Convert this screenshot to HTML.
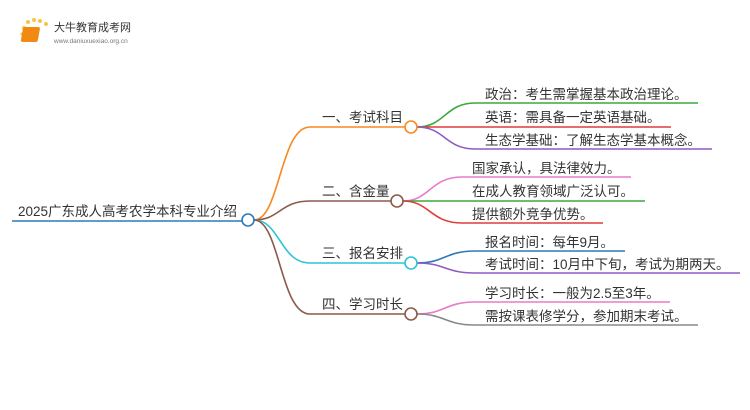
<!DOCTYPE html>
<html><head><meta charset="utf-8"><style>
body{margin:0;width:750px;height:410px;background:#fff;overflow:hidden;font-family:"Liberation Sans","Noto Sans CJK SC",sans-serif}
svg{position:absolute;left:0;top:0}
text{font-family:"Liberation Sans","Noto Sans CJK SC",sans-serif;fill:#333}
</style></head><body>
<svg width="750" height="410" viewBox="0 0 750 410">
<g>
<circle cx="24" cy="28" r="2" fill="#f7c544"/><circle cx="28" cy="22" r="2" fill="#f7c544"/><circle cx="34" cy="20" r="2" fill="#f7c544"/><circle cx="40" cy="21" r="2" fill="#f7c544"/><circle cx="46" cy="24" r="2" fill="#f7c544"/><circle cx="22" cy="34" r="1.6" fill="#f7c544"/><circle cx="23" cy="40" r="1.4" fill="#f7c544"/>
<rect x="28" y="27" width="17" height="15" rx="2" fill="#f08a12" transform="skewX(-10)"/>
<text x="54" y="31" font-size="11" style="fill:#333">大牛教育成考网</text>
<text x="54" y="43" font-size="6.5" style="fill:#777">www.daniuxuexiao.org.cn</text>
</g>
<g fill="none" stroke-width="1.6">
<path d="M12 221 H242" stroke="#2f79b8"/>
<path d="M254 220 C280 220 280 127 310 127 H405" stroke="#f7891e"/>
<path d="M254 220 C280 220 280 201 310 201 H391" stroke="#8b5a4a"/>
<path d="M254 220 C280 220 280 263 310 263 H405" stroke="#2ec3d3"/>
<path d="M254 220 C280 220 280 314 310 314 H405" stroke="#8b5a4a"/>
<path d="M417 127 C445 127 445 103 475 103 H698" stroke="#3aa83a"/>
<path d="M417 127 H671" stroke="#e03c3c"/>
<path d="M417 127 C445 127 445 149 475 149 H712" stroke="#8e5cc0"/>
<path d="M403 201 C430 201 430 177 462 177 H631" stroke="#e87ac8"/>
<path d="M403 201 H645" stroke="#3aa83a"/>
<path d="M403 201 C430 201 430 223 462 223 H603" stroke="#e03c3c"/>
<path d="M417 263 C445 263 445 251 475 251 H625" stroke="#2f79b8"/>
<path d="M417 263 C445 263 445 273 475 273 H740" stroke="#8e5cc0"/>
<path d="M417 314 C445 314 445 302 475 302 H670" stroke="#e87ac8"/>
<path d="M417 314 C445 314 445 325 475 325 H698" stroke="#888"/>
</g>
<g fill="#fff" stroke-width="1.6">
<circle cx="248" cy="220" r="6" stroke="#2f79b8"/>
<circle cx="411" cy="127" r="6" stroke="#f7891e"/>
<circle cx="397" cy="201" r="6" stroke="#8b5a4a"/>
<circle cx="411" cy="263" r="6" stroke="#2ec3d3"/>
<circle cx="411" cy="314" r="6" stroke="#8b5a4a"/>
</g>
<g font-size="13.5">
<text x="18" y="216">2025广东成人高考农学本科专业介绍</text>
<text x="322" y="122">一、考试科目</text>
<text x="322" y="196">二、含金量</text>
<text x="322" y="258">三、报名安排</text>
<text x="322" y="309">四、学习时长</text>
</g>
<g font-size="13.5">
<text x="485" y="99">政治：考生需掌握基本政治理论。</text>
<text x="485" y="122">英语：需具备一定英语基础。</text>
<text x="485" y="145">生态学基础：了解生态学基本概念。</text>
<text x="472" y="173">国家承认，具法律效力。</text>
<text x="472" y="196">在成人教育领域广泛认可。</text>
<text x="472" y="219">提供额外竞争优势。</text>
<text x="485" y="247">报名时间：每年9月。</text>
<text x="485" y="269">考试时间：10月中下旬，考试为期两天。</text>
<text x="485" y="298">学习时长：一般为2.5至3年。</text>
<text x="485" y="321">需按课表修学分，参加期末考试。</text>
</g>
</svg>
</body></html>
